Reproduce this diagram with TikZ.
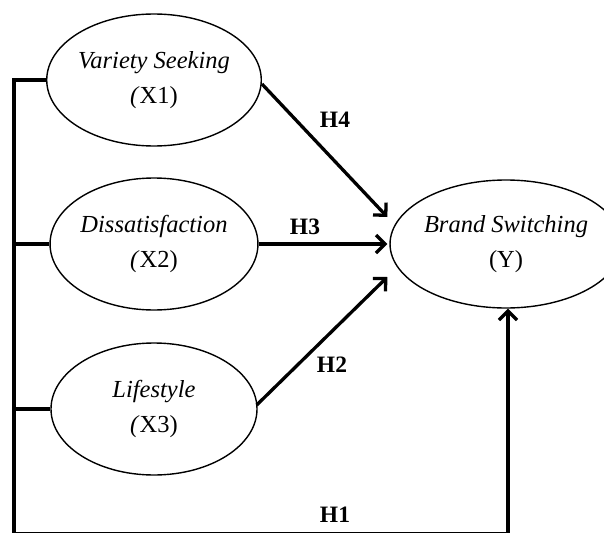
\documentclass[tikz,border=0pt]{standalone}
\usepackage{fontspec}
\setmainfont{Liberation Serif}
\usetikzlibrary{shapes.geometric,arrows.meta,calc}
\tikzset{
  latent/.style={draw, ellipse, line width=1.4pt, inner sep=0pt, align=center,
    font=\fontsize{24.5}{35}\selectfont},
  conn/.style={line width=3.3pt},
  pathto/.style={line width=3.3pt, -{Straight Barb[length=9pt,width=18pt]}},
  hlab/.style={font=\fontsize{23.5}{26}\selectfont\bfseries, inner sep=0pt}
}
\begin{document}
\begin{tikzpicture}[x=1pt,y=-1pt]
\useasboundingbox (0,0) rectangle (604,532);
\node[latent, minimum width=206pt, minimum height=132pt] (X1) at (154,80)
  {\textit{Variety Seeking}\\\textit{(}X1)};
\node[latent, minimum width=206pt, minimum height=132pt] (X2) at (154,244)
  {\textit{Dissatisfaction}\\\textit{(}X2)};
\node[latent, minimum width=206pt, minimum height=132pt] (X3) at (154,409)
  {\textit{Lifestyle}\\\textit{(}X3)};
\node[latent, minimum width=194pt, minimum height=128pt] (Y) at (506,244)
  {\textit{Brand Switching}\\(Y)};

\coordinate (bl) at (14,534);
\coordinate (br) at (508,534);
\coordinate (t4) at ($(Y.west)+(-2,-27)$);
\coordinate (t3) at ($(Y.west)+(-2,0)$);
\coordinate (t2) at ($(Y.west)+(-2,33)$);
\coordinate (s4) at ($(X1.east)+(0,4)$);
\coordinate (s2) at ($(X3.east)+(-1,-4)$);

\draw[conn] (X1.west) -| (bl) -- (br);
\draw[pathto] (br) -- (br |- Y.south);
\draw[conn] (X2.west) -- (X2.west -| bl);
\draw[conn] (X3.west) -- (X3.west -| bl);

\draw[pathto] (s4) -- (t4);
\draw[pathto] (X2.east) -- (t3);
\draw[pathto] (s2) -- (t2);

\node[hlab] (h4) at (335,120) {H4};
\node[hlab] (h3) at (305,227) {H3};
\node[hlab] (h2) at (332,365) {H2};
\node[hlab] (h1) at (335,515) {H1};
\end{tikzpicture}
\end{document}
